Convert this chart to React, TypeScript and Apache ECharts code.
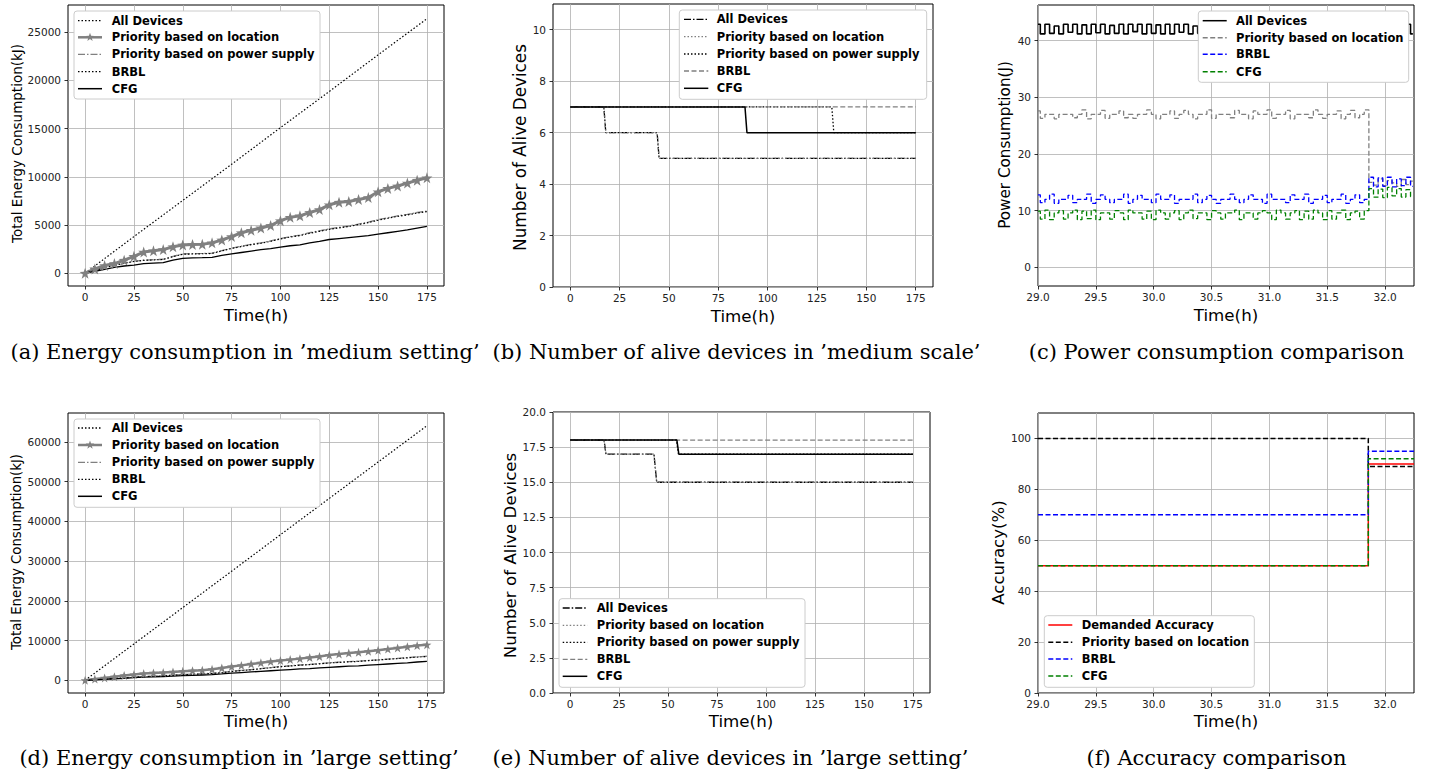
import React, { useEffect, useRef } from "react";
import * as echarts from "echarts";

// ---------- DATA ----------
const hourTicks = [0, 25, 50, 75, 100, 125, 150, 175];
const hours25 = [0, 25, 50, 75, 100, 125, 150, 175];
const hours5 = [0, 5, 10, 15, 20, 25, 30, 35, 40, 45, 50, 55, 60, 65, 70, 75, 80, 85, 90, 95, 100, 105, 110, 115, 120, 125, 130, 135, 140, 145, 150, 155, 160, 165, 170, 175];

// (a) energy, medium setting (kJ)
const aAllDevices = [0, 3800, 7550, 11300, 15100, 18850, 22650, 26400];
const aLocation = [0, 450, 800, 1000, 1350, 1750, 2200, 2330, 2450, 2750, 2930, 2980, 3000, 3150, 3450, 3800, 4200, 4450, 4700, 4950, 5450, 5800, 5950, 6300, 6600, 7100, 7370, 7450, 7650, 7850, 8450, 8800, 9050, 9350, 9650, 9900];
const aPowerSupply = [0, 300, 600, 850, 1050, 1250, 1350, 1400, 1450, 1750, 2000, 2030, 2050, 2080, 2350, 2600, 2800, 3000, 3150, 3350, 3600, 3800, 3950, 4200, 4400, 4600, 4750, 4900, 5100, 5300, 5550, 5750, 5950, 6100, 6300, 6450];
const aBRBL = [0, 280, 570, 820, 1020, 1220, 1330, 1380, 1430, 1720, 1970, 2000, 2020, 2050, 2320, 2570, 2770, 2960, 3110, 3310, 3560, 3760, 3910, 4150, 4350, 4550, 4700, 4850, 5050, 5250, 5500, 5700, 5900, 6050, 6250, 6400];
const aCFG = [0, 200, 400, 600, 750, 850, 1000, 1050, 1100, 1350, 1550, 1600, 1620, 1650, 1850, 2000, 2150, 2300, 2450, 2550, 2700, 2850, 2950, 3150, 3300, 3500, 3600, 3700, 3800, 3900, 4050, 4200, 4350, 4500, 4680, 4850];

// (d) energy, large setting (kJ)
const dAllDevices = [0, 9150, 18300, 27450, 36650, 45800, 54950, 64100];
const dLocation = [0, 300, 600, 900, 1200, 1450, 1700, 1850, 1950, 2100, 2250, 2400, 2550, 2750, 3100, 3450, 3750, 4100, 4400, 4700, 4950, 5200, 5450, 5750, 6000, 6350, 6600, 6850, 7050, 7300, 7550, 7850, 8150, 8450, 8750, 8950];
const dPowerSupply = [0, 150, 300, 450, 600, 800, 950, 1050, 1150, 1300, 1450, 1550, 1650, 1750, 1950, 2250, 2500, 2700, 2950, 3200, 3450, 3650, 3850, 4000, 4200, 4400, 4550, 4700, 4800, 5000, 5150, 5350, 5500, 5700, 5900, 6050];
const dBRBL = [0, 140, 280, 430, 580, 760, 900, 1000, 1100, 1250, 1400, 1500, 1600, 1700, 1900, 2200, 2450, 2650, 2900, 3150, 3400, 3600, 3800, 3950, 4150, 4350, 4500, 4650, 4750, 4950, 5100, 5300, 5450, 5650, 5850, 6000];
const dCFG = [0, 120, 250, 380, 500, 650, 800, 880, 950, 1050, 1150, 1250, 1330, 1420, 1600, 1800, 1950, 2100, 2250, 2400, 2550, 2700, 2850, 2950, 3100, 3250, 3400, 3550, 3650, 3800, 3950, 4100, 4250, 4400, 4600, 4780];

// (b) alive devices, medium scale
const bAllT = [0, 17, 18, 44, 45, 175];
const bAllV = [7, 7, 6, 6, 5, 5];
const bLocT = [0, 17, 18, 44, 45, 175];
const bLocV = [7, 7, 6, 6, 5, 5];
const bPowT = [0, 132.5, 133.5, 175];
const bPowV = [7, 7, 6, 6];
const bBrblT = [0, 175];
const bBrblV = [7, 7];
const bCfgT = [0, 88.5, 89.5, 175];
const bCfgV = [7, 7, 6, 6];

// (e) alive devices, large setting
const eAllT = [0, 17.3, 18.3, 42.8, 44.2, 175];
const eAllV = [18, 18, 17, 17, 15, 15];
const eLocT = [0, 17.3, 18.3, 42.8, 44.2, 175];
const eLocV = [18, 18, 17, 17, 15, 15];
const ePowT = [0, 54.3, 55.3, 175];
const ePowV = [18, 18, 17, 17];
const eBrblT = [0, 175];
const eBrblV = [18, 18];
const eCfgT = [0, 54.5, 55.5, 175];
const eCfgV = [18, 18, 17, 17];

// (c) power consumption (J)
const cTimes = [
  29.00, 29.04, 29.08, 29.12, 29.16, 29.20, 29.24, 29.28, 29.32, 29.36, 29.40, 29.44,
  29.48, 29.52, 29.56, 29.60, 29.64, 29.68, 29.72, 29.76, 29.80, 29.84, 29.88, 29.92,
  29.96, 30.00, 30.04, 30.08, 30.12, 30.16, 30.20, 30.24, 30.28, 30.32, 30.36, 30.40,
  30.44, 30.48, 30.52, 30.56, 30.60, 30.64, 30.68, 30.72, 30.76, 30.80, 30.84, 30.88,
  30.92, 30.96, 31.00, 31.04, 31.08, 31.12, 31.16, 31.20, 31.24, 31.28, 31.32, 31.36,
  31.40, 31.44, 31.48, 31.52, 31.56, 31.60, 31.64, 31.68, 31.72, 31.76, 31.80, 31.84,
  31.88, 31.92, 31.96, 32.00, 32.04, 32.08, 32.12, 32.16, 32.20, 32.24,
];
const cAllDevices = [
  42.9, 41.2, 42.9, 41.3, 42.6, 41.2, 42.9, 41.5, 42.9, 41.2, 42.8, 41.2,
  42.9, 41.4, 42.9, 41.2, 42.7, 41.3, 42.9, 41.2, 42.9, 41.6, 42.9, 41.2,
  42.9, 41.3, 42.8, 41.2, 42.9, 41.2, 42.9, 41.5, 42.9, 41.2, 42.6, 41.3,
  42.9, 41.2, 42.9, 41.2, 42.9, 41.4, 42.9, 41.2, 42.8, 41.2, 42.9, 41.3,
  42.9, 41.2, 42.7, 41.2, 42.9, 41.5, 42.9, 41.2, 42.9, 41.3, 42.8, 41.2,
  42.9, 41.2, 42.9, 41.4, 42.9, 41.2, 42.6, 41.3, 42.9, 41.2, 42.9, 41.2,
  42.9, 41.3, 42.9, 41.2, 42.8, 41.2, 42.9, 41.4, 42.9, 41.2,
];
const cLocation = [
  27.6, 26.3, 27.0, 27.0, 26.2, 27.0, 27.0, 27.0, 26.4, 27.0, 27.8, 26.2,
  27.0, 27.0, 27.7, 26.3, 27.0, 27.0, 27.6, 26.4, 27.0, 26.3, 27.0, 27.0,
  27.8, 27.0, 26.2, 27.0, 27.0, 27.6, 26.3, 27.0, 27.7, 27.0, 26.2, 27.0,
  27.0, 27.8, 26.3, 27.0, 27.0, 27.0, 26.4, 27.7, 27.0, 27.0, 26.2, 27.6,
  27.0, 27.0, 27.8, 26.3, 27.0, 27.0, 27.7, 26.2, 27.0, 27.0, 27.0, 26.4,
  27.8, 27.0, 26.3, 27.0, 27.0, 27.6, 26.2, 27.0, 27.7, 26.4, 27.0, 27.8,
  15.0, 14.5, 15.6, 14.4, 15.3, 14.9, 14.3, 15.5, 14.6, 15.2,
];
const cBRBL = [
  12.8, 11.4, 12.0, 12.9, 11.3, 12.0, 12.0, 12.7, 11.4, 12.0, 12.0, 12.9,
  11.3, 12.0, 12.8, 12.0, 11.4, 12.0, 12.0, 12.9, 11.3, 12.0, 12.7, 12.0,
  12.0, 11.4, 12.9, 12.0, 12.0, 12.8, 11.3, 12.0, 12.0, 12.0, 12.9, 11.4,
  12.0, 12.7, 12.0, 11.3, 12.0, 12.0, 12.9, 12.0, 11.4, 12.0, 12.8, 12.0,
  12.0, 11.3, 12.9, 12.0, 12.0, 12.0, 11.4, 12.8, 12.0, 12.0, 12.9, 11.3,
  12.0, 12.0, 12.7, 11.4, 12.0, 12.0, 12.9, 11.3, 12.0, 12.8, 11.4, 12.0,
  15.9, 14.2, 15.8, 14.3, 15.9, 14.2, 15.6, 14.4, 15.9, 14.3,
];
const cCFG = [
  9.9, 8.5, 10.1, 8.4, 9.6, 10.0, 8.5, 9.6, 10.1, 8.4, 9.9, 8.6,
  10.1, 8.4, 9.6, 9.6, 8.5, 10.0, 9.6, 8.4, 10.1, 9.6, 9.6, 8.5,
  9.9, 8.4, 10.1, 9.6, 8.5, 9.6, 10.0, 8.4, 9.6, 10.1, 8.6, 9.6,
  9.6, 8.4, 10.0, 9.6, 8.5, 9.6, 9.6, 10.1, 8.4, 9.6, 9.6, 8.5,
  9.6, 10.0, 9.6, 8.4, 10.1, 9.6, 8.5, 9.6, 10.0, 8.4, 9.9, 8.5,
  10.1, 9.6, 8.4, 10.0, 8.5, 9.6, 10.1, 8.4, 9.6, 9.9, 8.5, 10.0,
  13.9, 12.4, 13.8, 12.3, 14.1, 12.6, 13.9, 12.4, 13.7, 12.5,
];

// (f) accuracy (%)
const fTimes = [29.0, 31.855, 32.25];
const fDemanded = [50, 90, 90];
const fLocation = [100, 89, 89];
const fBRBL = [70, 95, 95];
const fCFG = [50, 92, 92];

// tick values
const energyMedTicks = [0, 5000, 10000, 15000, 20000, 25000];
const energyLargeTicks = [0, 10000, 20000, 30000, 40000, 50000, 60000];
const aliveMedTicks = [0, 2, 4, 6, 8, 10];
const aliveLargeTicks = [0, 2.5, 5, 7.5, 10, 12.5, 15, 17.5, 20];
const powerTicks = [0, 10, 20, 30, 40];
const accuracyTicks = [0, 20, 40, 60, 80, 100];
const timeShortTicks = [29.0, 29.5, 30.0, 30.5, 31.0, 31.5, 32.0];

// texts
const captions = [
  "(a) Energy consumption in ’medium setting’",
  "(b) Number of alive devices in ’medium scale’",
  "(c) Power consumption comparison",
  "(d) Energy consumption in ’large setting’",
  "(e) Number of alive devices in ’large setting’",
  "(f) Accuracy comparison",
];
const yTitles = [
  "Total Energy Consumption(kJ)",
  "Number of Alive Devices",
  "Power Consumption(J)",
  "Total Energy Consumption(kJ)",
  "Number of Alive Devices",
  "Accuracy(%)",
];
const xTitle = "Time(h)";

// ---------- STYLE ----------
const DOT = [1.5, 2];
const DASH = [5, 2.5];
const DASHDOT = [7, 2, 1.5, 2];
const GRAY = "#808080";
const BLACK = "#000000";
const BLUE = "#0000ff";
const GREEN = "#008000";
const RED = "#ff0000";
const STAR = "path://M0,-10 L2.35,-3.24 L9.51,-3.09 L3.8,1.24 L5.88,8.09 L0,4 L-5.88,8.09 L-3.8,1.24 L-9.51,-3.09 L-2.35,-3.24 Z";

const grids = [
  { left: 68, top: 5, width: 376, height: 281 },
  { left: 553, top: 4, width: 380, height: 283 },
  { left: 1038, top: 5, width: 376, height: 281 },
  { left: 68, top: 413, width: 376, height: 280 },
  { left: 553, top: 412, width: 377, height: 281 },
  { left: 1038, top: 413, width: 376, height: 280 },
];

function pairs(xs: number[], ys: number[]) {
  return xs.map((x, i) => [x, ys[i]]);
}

function lineSeries(name: string, idx: number, xs: number[], ys: number[], color: string, width: number, dash: any, extra: any = {}) {
  return {
    name,
    type: "line",
    xAxisIndex: idx,
    yAxisIndex: idx,
    data: pairs(xs, ys),
    symbol: "none",
    lineStyle: { color, width, type: dash || "solid" },
    itemStyle: { color },
    silent: true,
    animation: false,
    ...extra,
  };
}

function xAxis(idx: number, min: number, max: number, ticks: number[], fmt?: (v: number) => string) {
  return {
    type: "value",
    gridIndex: idx,
    min,
    max,
    axisLine: { show: false, onZero: false },
    axisTick: { show: true, customValues: ticks, length: 3.5, inside: false, lineStyle: { color: "#000", width: 0.8 } },
    axisLabel: {
      customValues: ticks,
      formatter: fmt || ((v: number) => String(v)),
      fontSize: 10.5,
      fontFamily: "DejaVu Sans",
      color: "#222",
      margin: 5.5,
    },
    splitLine: { show: true, lineStyle: { color: "#b0b0b0", width: 0.8 } },
  };
}

function yAxis(idx: number, min: number, max: number, ticks: number[], fmt?: (v: number) => string) {
  return {
    type: "value",
    gridIndex: idx,
    min,
    max,
    axisLine: { show: false, onZero: false },
    axisTick: { show: true, customValues: ticks, length: 3.5, inside: false, lineStyle: { color: "#000", width: 0.8 } },
    axisLabel: {
      customValues: ticks,
      formatter: fmt || ((v: number) => String(v)),
      fontSize: 10.5,
      fontFamily: "DejaVu Sans",
      color: "#222",
      margin: 7,
    },
    splitLine: { show: true, lineStyle: { color: "#b0b0b0", width: 0.8 } },
  };
}

function starPoints(cx: number, cy: number, R: number) {
  const pts: number[][] = [];
  for (let k = 0; k < 10; k++) {
    const r = k % 2 === 0 ? R : R * 0.4;
    const a = -Math.PI / 2 + (k * Math.PI) / 5;
    pts.push([cx + r * Math.cos(a), cy + r * Math.sin(a)]);
  }
  return pts;
}

type Row = { label: string; color: string; width: number; dash?: number[]; star?: boolean };

function legend(box: { x: number; y: number; w: number; h: number }, sx1: number, sx2: number, tx: number, ys: number[], rows: Row[]) {
  const els: any[] = [
    {
      type: "rect",
      z: 100,
      shape: { x: box.x, y: box.y, width: box.w, height: box.h, r: 3 },
      style: { fill: "#ffffff", stroke: "#cccccc", lineWidth: 1 },
    },
  ];
  rows.forEach((r, i) => {
    const y = ys[i];
    els.push({
      type: "line",
      z: 101,
      shape: { x1: sx1, y1: y, x2: sx2, y2: y },
      style: { stroke: r.color, lineWidth: r.width, lineDash: r.dash || null },
    });
    if (r.star) {
      els.push({
        type: "polygon",
        z: 102,
        shape: { points: starPoints((sx1 + sx2) / 2, y, 4.5) },
        style: { fill: r.color },
      });
    }
    els.push({
      type: "text",
      z: 101,
      x: tx,
      y,
      style: {
        text: r.label,
        fontSize: 11.5,
        fontWeight: "bold",
        fontFamily: "DejaVu Sans",
        fill: "#000",
        textAlign: "left",
        align: "left",
        textVerticalAlign: "middle",
        verticalAlign: "middle",
      },
    });
  });
  return els;
}

function text(str: string, x: number, y: number, size: number, family: string, rotate = false) {
  return {
    type: "text",
    z: 50,
    x,
    y,
    rotation: rotate ? Math.PI / 2 : 0,
    style: {
      text: str,
      fontSize: size,
      fontFamily: family,
      fill: "#000",
      textAlign: "center",
      align: "center",
      textVerticalAlign: "middle",
      verticalAlign: "middle",
    },
  };
}

const energyRows: Row[] = [
  { label: "All Devices", color: BLACK, width: 1.3, dash: DOT },
  { label: "Priority based on location", color: GRAY, width: 2.5, star: true },
  { label: "Priority based on power supply", color: GRAY, width: 1.3, dash: DASHDOT },
  { label: "BRBL", color: BLACK, width: 1.3, dash: DOT },
  { label: "CFG", color: BLACK, width: 1.5 },
];
const aliveRows: Row[] = [
  { label: "All Devices", color: BLACK, width: 1.3, dash: DASHDOT },
  { label: "Priority based on location", color: GRAY, width: 1.3, dash: DOT },
  { label: "Priority based on power supply", color: BLACK, width: 1.3, dash: DOT },
  { label: "BRBL", color: GRAY, width: 1.3, dash: DASH },
  { label: "CFG", color: BLACK, width: 1.5 },
];
const powerRows: Row[] = [
  { label: "All Devices", color: BLACK, width: 1.5 },
  { label: "Priority based on location", color: GRAY, width: 1.5, dash: DASH },
  { label: "BRBL", color: BLUE, width: 1.5, dash: DASH },
  { label: "CFG", color: GREEN, width: 1.5, dash: DASH },
];
const accRows: Row[] = [
  { label: "Demanded Accuracy", color: RED, width: 1.5 },
  { label: "Priority based on location", color: BLACK, width: 1.5, dash: DASH },
  { label: "BRBL", color: BLUE, width: 1.5, dash: DASH },
  { label: "CFG", color: GREEN, width: 1.5, dash: DASH },
];

function buildOption() {
  const fmt1 = (v: number) => v.toFixed(1);
  const series: any[] = [
    // (a)
    lineSeries("All Devices", 0, hours25, aAllDevices, BLACK, 1.2, DOT),
    lineSeries("Priority based on location", 0, hours5, aLocation, GRAY, 3, null, {
      symbol: STAR, symbolSize: 11, showSymbol: true, itemStyle: { color: GRAY },
    }),
    lineSeries("Priority based on power supply", 0, hours5, aPowerSupply, GRAY, 1.3, DASHDOT),
    lineSeries("BRBL", 0, hours5, aBRBL, BLACK, 1.2, DOT),
    lineSeries("CFG", 0, hours5, aCFG, BLACK, 1.3, null),
    // (b)
    lineSeries("All Devices", 1, bAllT, bAllV, BLACK, 1.3, DASHDOT),
    lineSeries("Priority based on location", 1, bLocT, bLocV, GRAY, 1.3, DOT),
    lineSeries("Priority based on power supply", 1, bPowT, bPowV, BLACK, 1.3, DOT),
    lineSeries("BRBL", 1, bBrblT, bBrblV, GRAY, 1.3, DASH),
    lineSeries("CFG", 1, bCfgT, bCfgV, BLACK, 1.5, null),
    // (c)
    lineSeries("All Devices", 2, cTimes, cAllDevices, BLACK, 1.6, null, { step: "middle" }),
    lineSeries("Priority based on location", 2, cTimes, cLocation, GRAY, 1.3, DASH, { step: "middle" }),
    lineSeries("BRBL", 2, cTimes, cBRBL, BLUE, 1.3, DASH, { step: "middle" }),
    lineSeries("CFG", 2, cTimes, cCFG, GREEN, 1.3, DASH, { step: "middle" }),
    // (d)
    lineSeries("All Devices", 3, hours25, dAllDevices, BLACK, 1.2, DOT),
    lineSeries("Priority based on location", 3, hours5, dLocation, GRAY, 2.5, null, {
      symbol: STAR, symbolSize: 9, showSymbol: true, itemStyle: { color: GRAY },
    }),
    lineSeries("Priority based on power supply", 3, hours5, dPowerSupply, GRAY, 1.3, DASHDOT),
    lineSeries("BRBL", 3, hours5, dBRBL, BLACK, 1.2, DOT),
    lineSeries("CFG", 3, hours5, dCFG, BLACK, 1.3, null),
    // (e)
    lineSeries("All Devices", 4, eAllT, eAllV, BLACK, 1.3, DASHDOT),
    lineSeries("Priority based on location", 4, eLocT, eLocV, GRAY, 1.3, DOT),
    lineSeries("Priority based on power supply", 4, ePowT, ePowV, BLACK, 1.3, DOT),
    lineSeries("BRBL", 4, eBrblT, eBrblV, GRAY, 1.3, DASH),
    lineSeries("CFG", 4, eCfgT, eCfgV, BLACK, 1.5, null),
    // (f)
    lineSeries("Demanded Accuracy", 5, fTimes, fDemanded, RED, 1.5, null, { step: "end" }),
    lineSeries("Priority based on location", 5, fTimes, fLocation, BLACK, 1.5, DASH, { step: "end" }),
    lineSeries("BRBL", 5, fTimes, fBRBL, BLUE, 1.5, DASH, { step: "end" }),
    lineSeries("CFG", 5, fTimes, fCFG, GREEN, 1.5, DASH, { step: "end" }),
  ];

  const graphics: any[] = [];
  // axis titles
  const xTitlePos = [
    [256, 315], [743, 316], [1226, 315],
    [256, 721], [741, 721], [1226, 721],
  ];
  xTitlePos.forEach(([x, y]) => graphics.push(text(xTitle, x, y, 16.7, "DejaVu Sans")));
  const yTitlePos = [
    [16.7, 143.5, 13.5], [520, 147.5, 16.8], [1004.5, 145, 15.2],
    [16.7, 552, 13.3], [509.5, 555.5, 16.7], [998.5, 552.5, 16.6],
  ];
  yTitlePos.forEach(([x, y, s], i) => graphics.push(text(yTitles[i], x, y, s, "DejaVu Sans", true)));
  // captions
  const capPos = [
    [245, 352], [736.5, 352], [1216.5, 352],
    [239, 758], [730.5, 758], [1216.5, 758],
  ];
  capPos.forEach(([x, y], i) => graphics.push(text(captions[i], x, y, 21, "DejaVu Serif")));

  // legends
  graphics.push(...legend({ x: 74, y: 11, w: 246, h: 88 }, 78, 102, 111.7, [20.7, 37.3, 54.3, 71.7, 88.7], energyRows));
  graphics.push(...legend({ x: 679.3, y: 10, w: 247.4, h: 89.3 }, 684, 708.3, 716.7, [19.3, 36.7, 54, 71, 88.3], aliveRows));
  graphics.push(...legend({ x: 1198.3, y: 11, w: 210.4, h: 71.3 }, 1202.7, 1226.7, 1236, [20.7, 37.7, 54.3, 71.7], powerRows));
  graphics.push(...legend({ x: 74, y: 419, w: 246, h: 88.3 }, 78, 102, 111.7, [428, 445, 462.3, 479.3, 496.3], energyRows));
  graphics.push(...legend({ x: 559, y: 598.7, w: 246, h: 88.6 }, 562.7, 587.3, 596.7, [608, 625.3, 642.3, 659.3, 676.3], aliveRows));
  graphics.push(...legend({ x: 1044.3, y: 615.7, w: 210, h: 71.6 }, 1048.3, 1072.3, 1081.7, [625, 642.3, 659, 676], accRows));

  return {
    animation: false,
    backgroundColor: "#ffffff",
    grid: grids.map((g) => ({
      ...g,
      containLabel: false,
      outerBoundsMode: "none",
      show: true,
      borderColor: "#000",
      borderWidth: 1,
      backgroundColor: "transparent",
    })),
    xAxis: [
      xAxis(0, -8.75, 183.75, hourTicks),
      xAxis(1, -8.75, 183.75, hourTicks),
      xAxis(2, 29.0, 32.25, timeShortTicks, fmt1),
      xAxis(3, -8.75, 183.75, hourTicks),
      xAxis(4, -8.75, 183.75, hourTicks),
      xAxis(5, 29.0, 32.25, timeShortTicks, fmt1),
    ],
    yAxis: [
      yAxis(0, -1325, 27825, energyMedTicks),
      yAxis(1, 0, 11, aliveMedTicks),
      yAxis(2, -3.3, 46.3, powerTicks),
      yAxis(3, -3205, 67305, energyLargeTicks),
      yAxis(4, 0, 20, aliveLargeTicks, fmt1),
      yAxis(5, 0, 110, accuracyTicks),
    ],
    series,
    graphic: { elements: graphics },
  };
}

export default function App() {
  const ref = useRef<HTMLDivElement>(null);
  useEffect(() => {
    if (!ref.current) return;
    const chart = echarts.init(ref.current, undefined, { renderer: "svg" });
    chart.setOption(buildOption() as any);
    return () => chart.dispose();
  }, []);
  return (
    <div
      ref={ref}
      style={{ position: "absolute", left: 0, top: 0, width: 1429, height: 776, background: "#fff" }}
    />
  );
}
